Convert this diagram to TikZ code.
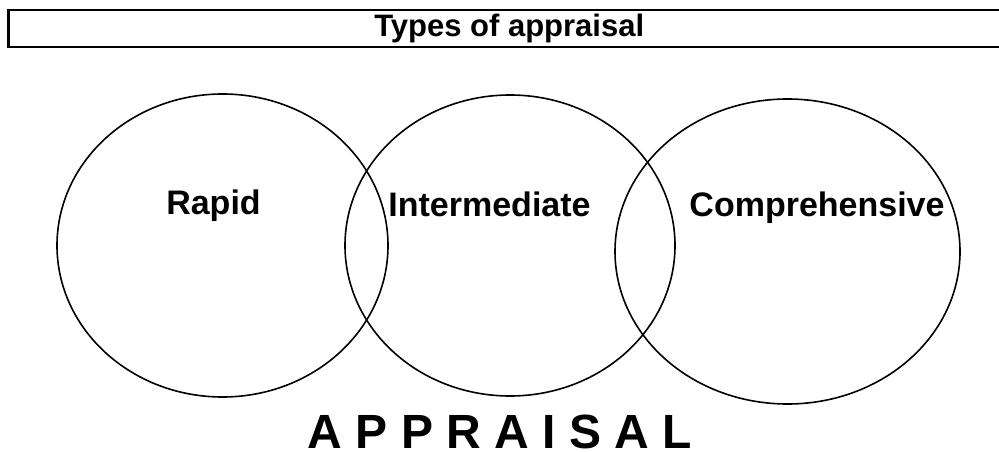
\documentclass[tikz,border=0pt]{standalone}
\usepackage{fontspec}
\setmainfont{Liberation Sans}
\usetikzlibrary{shapes.geometric}

\begin{document}
\begin{tikzpicture}[
    x=0.75pt, y=-0.75pt,
    ring/.style={ellipse, draw, line width=1.2pt, inner sep=0pt},
    titlebox/.style={rectangle, draw, line width=2.1pt, inner sep=0pt, font=\fontsize{23.25}{26}\selectfont\bfseries},
    lbl/.style={anchor=base, font=\fontsize{25.5}{28}\selectfont\bfseries},
    bigword/.style={anchor=base, inner sep=0pt, text depth=0pt, font=\fontsize{36}{40}\selectfont\bfseries}
]
\useasboundingbox (0,0) rectangle (999,452);
\clip (0,0) rectangle (999,452);

% Heading
\node[titlebox, minimum width=1001.5*0.75pt, minimum height=37*0.75pt] (title) at (509.25,28.5) {Types of appraisal};

% Circles
\node[ring, minimum width=331*0.75pt, minimum height=303*0.75pt] (rapid) at (222.5,245.5) {};
\node[ring, minimum width=330*0.75pt, minimum height=301*0.75pt] (inter) at (510,245.5) {};
\node[ring, minimum width=345*0.75pt, minimum height=305*0.75pt] (compr) at (787.5,251.5) {};

% Labels
\node[lbl] (rapidtxt) at (213.5,215) {Rapid};
\node[lbl] (intertxt) at (489.5,217) {Intermediate};
\node[lbl] (comprtxt) at (817,217) {Comprehensive};
\node[bigword] (appraisal) at (500,448.5) {A P P R A I S A L};
\end{tikzpicture}
\end{document}
